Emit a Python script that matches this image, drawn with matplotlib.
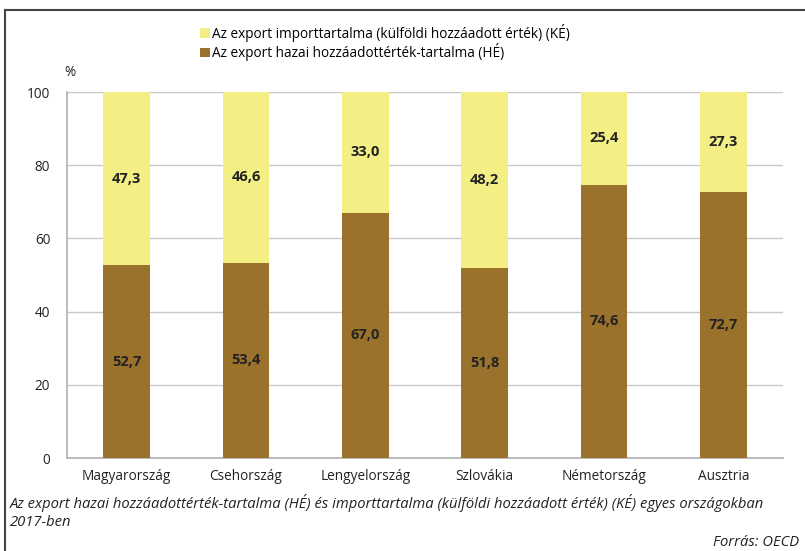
import matplotlib.pyplot as plt
import numpy as np

plt.rcParams['font.family'] = ['Open Sans', 'DejaVu Sans']

countries = ['Magyarország', 'Csehország', 'Lengyelország', 'Szlovákia', 'Németország', 'Ausztria']
he = [52.7, 53.4, 67.0, 51.8, 74.6, 72.7]
ke = [47.3, 46.6, 33.0, 48.2, 25.4, 27.3]

col_ke = '#F3EF85'
col_he = '#9B722C'

fig = plt.figure(figsize=(8.05, 5.51), dpi=100)
ax = fig.add_axes([67/805, 1-458/551, 716/805, 366/551])

x = np.arange(len(countries))
b1 = ax.bar(x, he, width=0.39, color=col_he, zorder=3, label='Az export hazai hozzáadottérték-tartalma (HÉ)')
b2 = ax.bar(x, ke, width=0.39, bottom=he, color=col_ke, zorder=3, label='Az export importtartalma (külföldi hozzáadott érték) (KÉ)')

for i in range(len(countries)):
    ax.text(x[i], he[i] / 2, f'{he[i]:.1f}'.replace('.', ','), ha='center', va='center',
            fontsize=10.5, fontweight='bold', color='#222222', zorder=4)
    ax.text(x[i], he[i] + ke[i] / 2, f'{ke[i]:.1f}'.replace('.', ','), ha='center', va='center',
            fontsize=10.5, fontweight='bold', color='#222222', zorder=4)

ax.set_xlim(-0.5, len(countries) - 0.5)
ax.set_ylim(0, 100)
ax.set_yticks([0, 20, 40, 60, 80, 100])
ax.grid(axis='y', color='#C8C8C8', linewidth=1, zorder=0)
ax.set_xticks(x)
ax.set_xticklabels(countries, fontsize=9.8)
ax.tick_params(axis='both', length=0, labelsize=9.8, colors='#222222')
ax.tick_params(axis='x', pad=8)
ax.tick_params(axis='y', pad=12)
for s in ['top', 'right']:
    ax.spines[s].set_visible(False)
for s in ['left', 'bottom']:
    ax.spines[s].set_color('#B0B0B0')
    ax.spines[s].set_linewidth(1.2)

fig.text(70/805, 1-72/551, '%', fontsize=9.8, ha='center', va='center', color='#222222')

leg = fig.legend(handles=[b2, b1], loc='upper left', bbox_to_anchor=(200/805, 1-24/551),
                 frameon=False, fontsize=9.8, handlelength=0.7, handleheight=0.7,
                 handletextpad=0.2, labelspacing=0.1, borderaxespad=0, borderpad=0)

fig.text(10/805, 1-503/551, 'Az export hazai hozzáadottérték-tartalma (HÉ) és importtartalma (külföldi hozzáadott érték) (KÉ) egyes országokban',
         fontsize=10.6, style='italic', ha='left', va='center', color='#222222')
fig.text(10/805, 1-522/551, '2017-ben', fontsize=10.6, style='italic', ha='left', va='center', color='#222222')
fig.text(799/805, 1-543/551, 'Forrás: OECD', fontsize=10.6, style='italic', ha='right', va='center', color='#222222')

# frame around the figure
fig.add_artist(plt.Line2D([5/805, 1], [1-10/551, 1-10/551], transform=fig.transFigure, color='#444444', linewidth=1.5))
fig.add_artist(plt.Line2D([5/805, 5/805], [0, 1-10/551], transform=fig.transFigure, color='#444444', linewidth=1.5))

fig.savefig('out.png', dpi=100)
